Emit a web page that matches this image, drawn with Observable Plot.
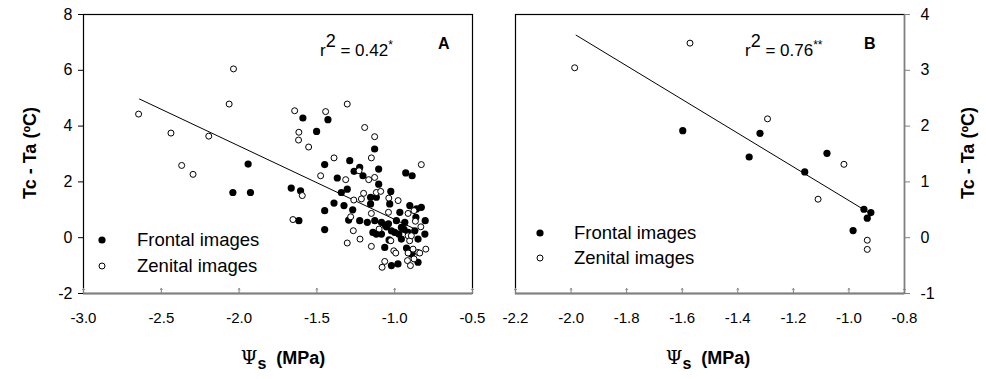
<!DOCTYPE html>
<html><head><meta charset="utf-8">
<script src="https://cdn.jsdelivr.net/npm/d3@7"></script>
<script src="https://cdn.jsdelivr.net/npm/@observablehq/plot@0.6"></script>
<style>
body{margin:0;background:#fff;font-family:"Liberation Sans",Arial,sans-serif;color:#000;}
#wrap{position:relative;width:986px;height:379px;overflow:hidden;background:#fff;}
.abs{position:absolute;white-space:nowrap;line-height:1;}
.ytitle{font-weight:bold;font-size:18px;transform:translate(-50%,-50%) rotate(-90deg);}
.xtitle{font-weight:bold;font-size:18px;transform:translate(-50%,-50%);}
.psi{font-family:"DejaVu Serif","Liberation Serif",serif;font-weight:normal;font-size:19px;}
.sub{font-size:16px;position:relative;top:5px;}
.leg{font-size:18.5px;transform:translateY(-50%);}
.ann{font-size:17px;}
.ann sup{font-size:18px;vertical-align:0;position:relative;top:-9px;}
.ann .star{font-size:12px;position:relative;top:-7px;}
.letter{font-weight:bold;font-size:16px;}
</style></head><body><div id="wrap"></div>
<script>
// ---------- Panel A data ----------
const xDomainA = [-3, -0.5];
const yDomainA = [-2, 8];
const xTicksA = [-3.0, -2.5, -2.0, -1.5, -1.0, -0.5];
const yTicksA = [-2, 0, 2, 4, 6, 8];
const frontalA_x = [-2.04,-1.942,-1.927,-1.665,-1.605,-1.616,-1.59,-1.502,-1.429,-1.45,-1.45,-1.45,-1.369,-1.39,-1.343,-1.305,-1.289,-1.261,-1.225,-1.204,-1.129,-1.103,-1.103,-1.326,-1.27,-1.296,-1.225,-1.176,-1.155,-1.155,-1.118,-1.128,-1.14,-1.085,-1.053,-1.025,-1.032,-1.021,-1.0,-0.967,-0.957,-1.064,-1.036,-1.021,-0.979,-0.929,-0.888,-0.903,-0.86,-0.829,-0.864,-0.804,-0.806,-0.924,-0.892,-0.85,-0.957,-0.871,-0.85,-0.914,-0.935,-0.989,-1.085,-1.118,-0.974,-1.06,-1.04,-0.94];
const frontalA_y = [1.62,2.64,1.62,1.78,1.68,0.61,4.29,3.81,4.23,2.62,0.97,0.29,2.14,1.24,1.62,1.74,2.76,2.38,2.52,2.22,3.18,2.46,1.92,1.15,1.0,0.63,0.61,0.55,1.45,1.21,1.45,0.61,0.19,0.55,0.39,1.66,1.21,0.25,0.19,0.91,0.37,-0.35,-0.08,-1.0,-0.94,2.32,2.22,1.15,1.03,1.09,0.73,0.61,0.13,-0.37,-0.59,-0.88,-0.05,0.25,-0.05,0.19,0.55,0.61,0.13,0.13,0.13,0.45,0.5,0.3];
const zenitalA_x = [-2.646,-2.438,-2.369,-2.296,-2.195,-2.064,-2.036,-1.643,-1.616,-1.618,-1.553,-1.594,-1.654,-1.444,-1.305,-1.39,-1.476,-1.193,-1.129,-1.15,-1.129,-1.229,-1.315,-1.167,-1.118,-1.09,-1.2,-1.263,-1.214,-0.978,-1.038,-1.15,-1.04,-0.914,-0.876,-0.829,-0.867,-0.832,-1.283,-1.266,-1.305,-1.223,-1.15,-1.1,-1.025,-1.006,-0.993,-1.064,-1.081,-0.914,-0.904,-0.914,-0.918,-0.899,-0.882,-0.85,-0.876,-0.8,-0.893,-0.839];
const zenitalA_y = [4.43,3.75,2.59,2.27,3.64,4.79,6.05,4.55,3.78,3.5,3.25,1.51,0.65,4.52,4.79,2.86,2.22,3.95,3.62,2.86,2.16,2.4,2.08,2.08,1.62,1.66,1.59,1.35,1.39,1.33,1.42,0.87,0.91,0.87,0.97,2.62,0.59,0.39,0.75,0.25,-0.19,-0.05,-0.31,0.31,-0.11,-0.47,-0.55,-0.85,-1.06,0.07,-0.11,-0.55,-0.82,-1.0,-0.41,-0.53,-0.76,-0.41,0.07,-0.55];
const fitA_x = [-2.64, -0.85];
const fitA_y = [4.97, 0.26];

// ---------- Panel B data ----------
const xDomainB = [-2.2, -0.8];
const yDomainB = [-1, 4];
const xTicksB = [-2.2, -2.0, -1.8, -1.6, -1.4, -1.2, -1.0, -0.8];
const yTicksB = [-1, 0, 1, 2, 3, 4];
const frontalB_x = [-1.598,-1.359,-1.32,-1.159,-1.079,-0.985,-0.946,-0.921,-0.934];
const frontalB_y = [1.918,1.446,1.87,1.178,1.512,0.128,0.51,0.45,0.35];
const zenitalB_x = [-1.987,-1.572,-1.293,-1.018,-1.111,-0.934,-0.934];
const zenitalB_y = [3.045,3.487,2.13,1.315,0.69,-0.045,-0.21];
const fitB_x = [-1.982, -0.932];
const fitB_y = [3.63, 0.46];

// ---------- Text ----------
const yTitle = "Tc - Ta (ºC)";
const legendLabels = ["Frontal images", "Zenital images"];

const zip = (xs, ys) => xs.map((x, i) => ({x, y: ys[i]}));
const GRAY = "#808080";
const fmt1 = d => d.toFixed(1);

function panel({width, left, mL, mR, xDomain, yDomain, xTicks, yTicks, yAnchor, front, zen, fit, grayRight}) {
  const p = Plot.plot({
    width, height: 379,
    marginLeft: mL, marginRight: mR, marginTop: 14, marginBottom: 86,
    x: {domain: xDomain},
    y: {domain: yDomain},
    style: {fontFamily: '"Liberation Sans", Arial, sans-serif', fontSize: "15px", color: "#000", background: "transparent", overflow: "visible"},
    marks: [
      Plot.frame({stroke: "#000", strokeWidth: 1.2}),
      Plot.ruleY([yDomain[0]], {stroke: GRAY, strokeWidth: 2}),
      grayRight ? Plot.ruleX([xDomain[1]], {stroke: GRAY, strokeWidth: 1.5}) : null,
      Plot.axisY(yTicks, {anchor: yAnchor, tickSize: 5, tickPadding: yAnchor === "left" ? 6 : 11, tickFormat: d => String(d), label: null, fontSize: 16, stroke: yAnchor === "left" ? "#000" : GRAY}),
      Plot.axisX(xTicks, {tickSize: 0, tickPadding: 19, tickFormat: fmt1, label: null, fontSize: 15}),
      Plot.vector(xTicks, {x: d => d, y: () => yDomain[0], length: 5, anchor: "start", stroke: GRAY, strokeWidth: 1}),
      Plot.line(fit, {x: "x", y: "y", stroke: "#000", strokeWidth: 1}),
      Plot.dot(front, {x: "x", y: "y", r: 3.6, fill: "#000", stroke: "none"}),
      Plot.dot(zen, {x: "x", y: "y", r: 3, fill: "#fff", stroke: "#000", strokeWidth: 1})
    ]
  });
  p.style.position = "absolute";
  p.style.top = "0px";
  p.style.left = left + "px";
  p.style.maxWidth = "none";
  return p;
}

const wrap = document.getElementById("wrap");
wrap.appendChild(panel({width: 490, left: 0, mL: 83, mR: 18, xDomain: xDomainA, yDomain: yDomainA, xTicks: xTicksA, yTicks: yTicksA, yAnchor: "left",
  front: zip(frontalA_x, frontalA_y), zen: zip(zenitalA_x, zenitalA_y), fit: zip(fitA_x, fitA_y), grayRight: false}));
wrap.appendChild(panel({width: 496, left: 490, mL: 25, mR: 82, xDomain: xDomainB, yDomain: yDomainB, xTicks: xTicksB, yTicks: yTicksB, yAnchor: "right",
  front: zip(frontalB_x, frontalB_y), zen: zip(zenitalB_x, zenitalB_y), fit: zip(fitB_x, fitB_y), grayRight: true}));

function add(html, cls, style) {
  const d = document.createElement("div");
  d.className = "abs " + cls;
  d.innerHTML = html;
  Object.assign(d.style, style);
  wrap.appendChild(d);
}
// axis titles
add(yTitle, "ytitle", {left: "30px", top: "153px"});
add(yTitle, "ytitle", {left: "968px", top: "153px"});
const psi = '<span class="psi">Ψ</span><span class="sub">s</span>&nbsp; (MPa)';
add(psi, "xtitle", {left: "283px", top: "357px"});
add(psi, "xtitle", {left: "708px", top: "357px"});
// annotations
add('r<sup>2</sup> = 0.42<span class="star">*</span>', "ann", {left: "320px", top: "41px"});
add('A', "letter", {left: "438px", top: "36px"});
add('r<sup>2</sup> = 0.76<span class="star">**</span>', "ann", {left: "745px", top: "41px"});
add('B', "letter", {left: "864px", top: "36px"});
// legends
const dotSvg = (filled) => `<svg width="10" height="10" style="position:absolute;left:-5px;top:-5px;overflow:visible"><circle cx="5" cy="5" r="${filled ? 3.6 : 3}" fill="${filled ? "#000" : "#fff"}" stroke="${filled ? "none" : "#000"}" stroke-width="1"/></svg>`;
[[102, 137, 240, 266], [540, 574, 233, 258]].forEach(([dx, tx, y1, y2]) => {
  add(dotSvg(true), "", {left: dx + "px", top: y1 + "px"});
  add(dotSvg(false), "", {left: dx + "px", top: y2 + "px"});
  add(legendLabels[0], "leg", {left: tx + "px", top: y1 + "px"});
  add(legendLabels[1], "leg", {left: tx + "px", top: y2 + "px"});
});
</script></body></html>
